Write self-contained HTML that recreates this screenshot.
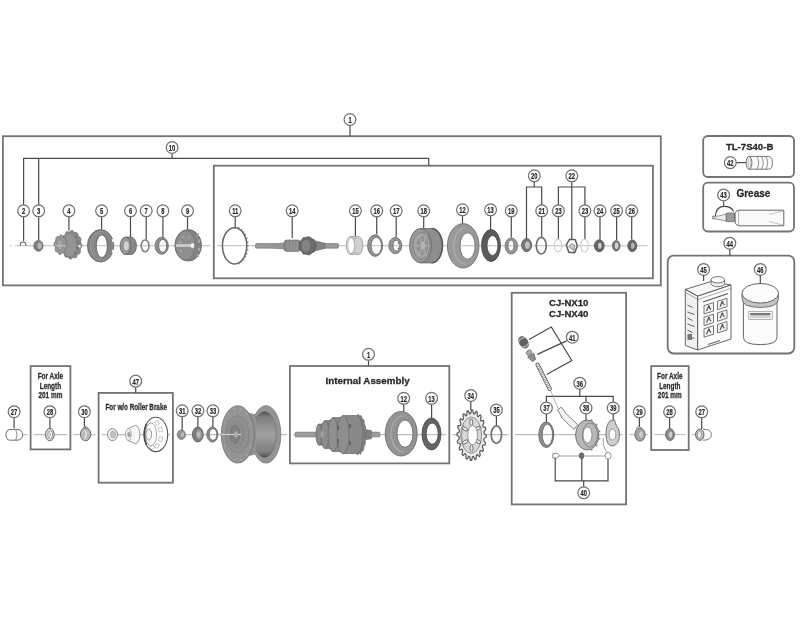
<!DOCTYPE html>
<html><head><meta charset="utf-8"><style>
html,body{margin:0;padding:0;background:#fff;}
svg{display:block;font-family:"Liberation Sans",sans-serif;will-change:transform;filter:blur(0.3px);}
</style></head><body>
<svg width="800" height="617" viewBox="0 0 800 617">
<defs>
<radialGradient id="gA" cx="0.4" cy="0.4" r="0.7"><stop offset="0" stop-color="#a8a8a8"/><stop offset="1" stop-color="#6e6e6e"/></radialGradient>
<linearGradient id="gB" x1="0" y1="0" x2="0" y2="1"><stop offset="0" stop-color="#9a9a9a"/><stop offset="0.5" stop-color="#b0b0b0"/><stop offset="1" stop-color="#7a7a7a"/></linearGradient>
<linearGradient id="gC" x1="0" y1="0" x2="1" y2="0"><stop offset="0" stop-color="#8a8a8a"/><stop offset="1" stop-color="#a5a5a5"/></linearGradient>
<linearGradient id="gHub" x1="0" y1="0" x2="0" y2="1"><stop offset="0" stop-color="#4a4a4a"/><stop offset="0.12" stop-color="#7a7a7a"/><stop offset="0.5" stop-color="#9a9a9a"/><stop offset="0.88" stop-color="#7a7a7a"/><stop offset="1" stop-color="#4a4a4a"/></linearGradient>
</defs>
<line x1="10" y1="245.8" x2="11.5" y2="245.8" stroke="#bdbdbd" stroke-width="1.1"/>
<line x1="15" y1="245.8" x2="210.60000000000002" y2="245.8" stroke="#bdbdbd" stroke-width="1.1"/>
<line x1="217.0" y1="245.8" x2="647.5" y2="245.8" stroke="#bdbdbd" stroke-width="1.1"/>
<line x1="6" y1="434.6" x2="27.400000000000002" y2="434.6" stroke="#bdbdbd" stroke-width="1.1"/>
<line x1="33.800000000000004" y1="434.6" x2="67.2" y2="434.6" stroke="#bdbdbd" stroke-width="1.1"/>
<line x1="73.60000000000001" y1="434.6" x2="95.5" y2="434.6" stroke="#bdbdbd" stroke-width="1.1"/>
<line x1="101.9" y1="434.6" x2="170.0" y2="434.6" stroke="#bdbdbd" stroke-width="1.1"/>
<line x1="176.39999999999998" y1="434.6" x2="286.7" y2="434.6" stroke="#bdbdbd" stroke-width="1.1"/>
<line x1="293.09999999999997" y1="434.6" x2="446.1" y2="434.6" stroke="#bdbdbd" stroke-width="1.1"/>
<line x1="452.5" y1="434.6" x2="508.5" y2="434.6" stroke="#bdbdbd" stroke-width="1.1"/>
<line x1="514.9" y1="434.6" x2="622.9" y2="434.6" stroke="#bdbdbd" stroke-width="1.1"/>
<line x1="629.3000000000001" y1="434.6" x2="648.0" y2="434.6" stroke="#bdbdbd" stroke-width="1.1"/>
<line x1="654.4000000000001" y1="434.6" x2="685.5" y2="434.6" stroke="#bdbdbd" stroke-width="1.1"/>
<line x1="691.9000000000001" y1="434.6" x2="700" y2="434.6" stroke="#bdbdbd" stroke-width="1.1"/>
<rect x="2.9" y="136.2" width="657.9" height="149.2" rx="0" fill="none" stroke="#737373" stroke-width="1.8"/>
<rect x="213.8" y="165.7" width="439.09999999999997" height="112.60000000000002" rx="0" fill="none" stroke="#737373" stroke-width="1.8"/>
<line x1="350" y1="125.3" x2="350" y2="136.2" stroke="#4a4a4a" stroke-width="1.2"/>
<circle cx="350" cy="119.5" r="5.9" fill="#fff" stroke="#727272" stroke-width="1.25"/>
<text x="0" y="0" transform="translate(350,122.9) scale(0.62,1)" text-anchor="middle" font-size="9.4" font-weight="bold" fill="#262626" stroke="#262626" stroke-width="0.2">1</text>
<polyline points="23.6,205 23.6,158.4 428.7,158.4 428.7,165.7" fill="none" stroke="#4a4a4a" stroke-width="1.2"/>
<line x1="38.7" y1="158.4" x2="38.7" y2="205" stroke="#4a4a4a" stroke-width="1.2"/>
<line x1="172.1" y1="153.2" x2="172.1" y2="158.4" stroke="#4a4a4a" stroke-width="1.2"/>
<circle cx="172.1" cy="147.5" r="5.9" fill="#fff" stroke="#727272" stroke-width="1.25"/>
<text x="0" y="0" transform="translate(172.1,150.9) scale(0.62,1)" text-anchor="middle" font-size="9.4" font-weight="bold" fill="#262626" stroke="#262626" stroke-width="0.2">10</text>
<line x1="23.6" y1="216.60000000000002" x2="23.6" y2="241" stroke="#4a4a4a" stroke-width="1.2"/>
<line x1="38.7" y1="216.60000000000002" x2="38.7" y2="240" stroke="#4a4a4a" stroke-width="1.2"/>
<line x1="68.9" y1="216.60000000000002" x2="68.9" y2="230.5" stroke="#4a4a4a" stroke-width="1.2"/>
<line x1="101.6" y1="216.60000000000002" x2="101.6" y2="229.5" stroke="#4a4a4a" stroke-width="1.2"/>
<line x1="130.5" y1="216.60000000000002" x2="130.5" y2="237" stroke="#4a4a4a" stroke-width="1.2"/>
<line x1="146.2" y1="216.60000000000002" x2="146.2" y2="239.5" stroke="#4a4a4a" stroke-width="1.2"/>
<line x1="162.9" y1="216.60000000000002" x2="162.9" y2="237.5" stroke="#4a4a4a" stroke-width="1.2"/>
<line x1="187.5" y1="216.60000000000002" x2="187.5" y2="229" stroke="#4a4a4a" stroke-width="1.2"/>
<line x1="235.2" y1="216.60000000000002" x2="235.2" y2="227" stroke="#4a4a4a" stroke-width="1.2"/>
<line x1="292.2" y1="216.60000000000002" x2="292.2" y2="238" stroke="#4a4a4a" stroke-width="1.2"/>
<line x1="355.4" y1="216.60000000000002" x2="355.4" y2="236.4" stroke="#4a4a4a" stroke-width="1.2"/>
<line x1="376.7" y1="216.60000000000002" x2="376.7" y2="234.6" stroke="#4a4a4a" stroke-width="1.2"/>
<line x1="396.2" y1="216.60000000000002" x2="396.2" y2="237" stroke="#4a4a4a" stroke-width="1.2"/>
<line x1="423.7" y1="216.60000000000002" x2="423.7" y2="228" stroke="#4a4a4a" stroke-width="1.2"/>
<line x1="462.5" y1="215.60000000000002" x2="462.5" y2="223.3" stroke="#4a4a4a" stroke-width="1.2"/>
<line x1="490.6" y1="215.60000000000002" x2="490.6" y2="229.6" stroke="#4a4a4a" stroke-width="1.2"/>
<line x1="511.3" y1="216.60000000000002" x2="511.3" y2="237.6" stroke="#4a4a4a" stroke-width="1.2"/>
<line x1="541.7" y1="216.60000000000002" x2="541.7" y2="237" stroke="#4a4a4a" stroke-width="1.2"/>
<line x1="558.4" y1="216.60000000000002" x2="558.4" y2="239" stroke="#4a4a4a" stroke-width="1.2"/>
<line x1="584.9" y1="216.60000000000002" x2="584.9" y2="239" stroke="#4a4a4a" stroke-width="1.2"/>
<line x1="600" y1="216.60000000000002" x2="600" y2="239.8" stroke="#4a4a4a" stroke-width="1.2"/>
<line x1="616.6" y1="216.60000000000002" x2="616.6" y2="240" stroke="#4a4a4a" stroke-width="1.2"/>
<line x1="631.7" y1="216.60000000000002" x2="631.7" y2="239.5" stroke="#4a4a4a" stroke-width="1.2"/>
<line x1="534.3" y1="181.6" x2="534.3" y2="187" stroke="#4a4a4a" stroke-width="1.2"/>
<polyline points="526.5,239.7 526.5,187 541.7,187 541.7,205" fill="none" stroke="#4a4a4a" stroke-width="1.2"/>
<polyline points="558.4,205 558.4,187 584.9,187 584.9,205" fill="none" stroke="#4a4a4a" stroke-width="1.2"/>
<line x1="571.8" y1="181.6" x2="571.8" y2="239" stroke="#4a4a4a" stroke-width="1.2"/>
<g style="filter:brightness(1.07)"><path d="M20.2,245.8 A2.9,3.8 0 0 1 26,245.8" fill="none" stroke="#555" stroke-width="1.1" />
<ellipse cx="38.40" cy="245.80" rx="4.60" ry="5.40" fill="#767676" stroke="#5a5a5a" stroke-width="0.8" />
<ellipse cx="39.60" cy="245.80" rx="2.20" ry="3.20" fill="#a9a9a9" stroke="none" stroke-width="0.8" />
<path d="M81.80,244.80 L81.71,246.67 L80.62,248.21 L80.21,249.83 L80.38,251.95 L79.61,253.51 L78.10,254.10 L77.14,255.24 L76.50,257.18 L75.26,258.01 L73.72,257.51 L72.47,257.84 L71.20,259.10 L69.82,258.98 L68.68,257.51 L67.47,256.95 L65.90,257.18 L64.75,256.14 L64.30,254.10 L63.46,252.81 L62.02,251.95 L61.41,250.27 L61.78,248.21 L61.53,246.52 L60.60,244.80 L60.69,242.93 L61.78,241.39 L62.19,239.77 L62.02,237.65 L62.79,236.09 L64.30,235.50 L65.26,234.36 L65.90,232.42 L67.14,231.59 L68.68,232.09 L69.93,231.76 L71.20,230.50 L72.58,230.62 L73.72,232.09 L74.93,232.65 L76.50,232.42 L77.65,233.46 L78.10,235.50 L78.94,236.79 L80.38,237.65 L80.99,239.33 L80.62,241.39 L80.87,243.08 Z" fill="#828282" stroke="#5e5e5e" stroke-width="0.7"/>
<ellipse cx="69.50" cy="244.80" rx="7.50" ry="12.00" fill="#8a8a8a" stroke="#6e6e6e" stroke-width="0.6" />
<path d="M67.00,244.80 L66.88,246.75 L65.78,248.17 L65.26,249.69 L65.10,251.87 L64.11,253.11 L62.69,252.93 L61.62,253.43 L60.50,254.80 L59.23,254.61 L58.31,252.93 L57.32,252.12 L55.90,251.87 L55.10,250.36 L55.22,248.17 L54.89,246.52 L54.00,244.80 L54.12,242.85 L55.22,241.43 L55.74,239.91 L55.90,237.73 L56.89,236.49 L58.31,236.67 L59.38,236.17 L60.50,234.80 L61.77,234.99 L62.69,236.67 L63.68,237.48 L65.10,237.73 L65.90,239.24 L65.78,241.43 L66.11,243.08 Z" fill="#8c8c8c" stroke="#666" stroke-width="0.6"/>
<ellipse cx="59.80" cy="244.80" rx="3.20" ry="5.20" fill="#9a9a9a" stroke="#727272" stroke-width="0.5" />
<line x1="55" y1="245.8" x2="66" y2="245.8" stroke="#b8b8b8" stroke-width="1"/>
<circle cx="79.6" cy="246.3" r="1.2" fill="#e0e0e0"/>
<rect x="74.86" y="235.74" width="2" height="2.8" fill="#707070"/>
<rect x="76.80" y="240.81" width="2" height="2.8" fill="#707070"/>
<rect x="76.64" y="246.82" width="2" height="2.8" fill="#707070"/>
<rect x="74.44" y="251.59" width="2" height="2.8" fill="#707070"/>
<path d="M87.40,245.80 a13.20,16.20 0 1 0 26.40,0 a13.20,16.20 0 1 0 -26.40,0 Z M96.30,246.20 a5.50,11.30 0 1 0 11.00,0 a5.50,11.30 0 1 0 -11.00,0 Z" fill="#7a7a7a" fill-rule="evenodd" stroke="#5a5a5a" stroke-width="0.8"/>
<path d="M101.5,231.20000000000002 A11,14.6 0 0 0 101.5,260.40000000000003" fill="none" stroke="#989898" stroke-width="0.9" />
<path d="M101.5,233.20000000000002 A8.4,12.6 0 0 0 101.5,258.40000000000003" fill="none" stroke="#939393" stroke-width="0.8" />
<path d="M101.5,231.20000000000002 A11.5,14.6 0 0 1 101.5,260.40000000000003" fill="none" stroke="#8e8e8e" stroke-width="0.7" />
<rect x="112.2" y="239.1" width="2.6" height="2.8" fill="#fff"/>
<rect x="112.2" y="250.1" width="2.6" height="2.8" fill="#fff"/>
<path d="M125.50,237.10 L131.00,237.10 A5.40,8.70 0 0 1 131.00,254.50 L125.50,254.50 Z" fill="#7d7d7d" stroke="#5a5a5a" stroke-width="0.8"/>
<ellipse cx="125.50" cy="245.80" rx="5.40" ry="8.70" fill="#8c8c8c" stroke="#5a5a5a" stroke-width="0.8" />
<ellipse cx="126.30" cy="245.80" rx="2.40" ry="4.60" fill="#c4c4c4" stroke="none" stroke-width="0.8" />
<ellipse cx="145.10" cy="245.80" rx="3.90" ry="5.90" fill="none" stroke="#737373" stroke-width="1.5" />
<path d="M155.10,245.80 a6.60,8.50 0 1 0 13.20,0 a6.60,8.50 0 1 0 -13.20,0 Z M158.70,245.80 a4.00,6.40 0 1 0 8.00,0 a4.00,6.40 0 1 0 -8.00,0 Z" fill="#878787" fill-rule="evenodd" stroke="#5a5a5a" stroke-width="0.8"/>
<ellipse cx="188.20" cy="245.30" rx="13.30" ry="15.80" fill="#7a7a7a" stroke="#5a5a5a" stroke-width="0.8" />
<ellipse cx="185.50" cy="245.30" rx="10.00" ry="14.40" fill="#868686" stroke="#6a6a6a" stroke-width="0.6" />
<rect x="196.60" y="233.31" width="2.4" height="3.2" fill="#9a9a9a"/>
<rect x="197.74" y="239.60" width="2.4" height="3.2" fill="#9a9a9a"/>
<rect x="197.74" y="247.80" width="2.4" height="3.2" fill="#9a9a9a"/>
<rect x="196.60" y="254.09" width="2.4" height="3.2" fill="#9a9a9a"/>
<circle cx="179.86" cy="242.22" r="1.2" fill="#9c9c9c"/>
<circle cx="183.45" cy="236.84" r="1.2" fill="#9c9c9c"/>
<circle cx="188.50" cy="237.51" r="1.2" fill="#9c9c9c"/>
<circle cx="180.90" cy="251.09" r="1.2" fill="#9c9c9c"/>
<rect x="176.00" y="244.20" width="16.00" height="2.60" rx="0" fill="#c2c2c2" stroke="none" stroke-width="0.6"/>
<ellipse cx="192.50" cy="245.50" rx="1.80" ry="2.50" fill="#e6e6e6" stroke="none" stroke-width="0.8" />
<circle cx="238.88" cy="228.09" r="1.0" fill="#999"/>
<circle cx="241.37" cy="229.67" r="1.0" fill="#999"/>
<circle cx="243.58" cy="231.95" r="1.0" fill="#999"/>
<circle cx="245.40" cy="234.84" r="1.0" fill="#999"/>
<circle cx="246.77" cy="238.22" r="1.0" fill="#999"/>
<circle cx="247.61" cy="241.92" r="1.0" fill="#999"/>
<circle cx="247.90" cy="245.80" r="1.0" fill="#999"/>
<circle cx="247.61" cy="249.68" r="1.0" fill="#999"/>
<circle cx="246.77" cy="253.38" r="1.0" fill="#999"/>
<circle cx="245.40" cy="256.76" r="1.0" fill="#999"/>
<circle cx="243.58" cy="259.65" r="1.0" fill="#999"/>
<circle cx="241.37" cy="261.93" r="1.0" fill="#999"/>
<circle cx="238.88" cy="263.51" r="1.0" fill="#999"/>
<ellipse cx="234.60" cy="245.80" rx="12.20" ry="18.10" fill="none" stroke="#5c5c5c" stroke-width="1.45" />
<rect x="255.50" y="243.50" width="83.00" height="4.70" rx="1.2" fill="#8f8f8f" stroke="#6c6c6c" stroke-width="0.6"/>
<path d="M270,243.8 L284,242.4 L284,249.4 L270,248 Z" fill="#8a8a8a" stroke="none"/>
<rect x="284.00" y="240.00" width="16.50" height="11.40" rx="3" fill="#7f7f7f" stroke="#5e5e5e" stroke-width="0.6"/>
<line x1="288" y1="240.6" x2="288" y2="250.8" stroke="#9c9c9c" stroke-width="0.7"/>
<line x1="291" y1="240.6" x2="291" y2="250.8" stroke="#9c9c9c" stroke-width="0.7"/>
<line x1="294" y1="240.6" x2="294" y2="250.8" stroke="#9c9c9c" stroke-width="0.7"/>
<line x1="297" y1="240.6" x2="297" y2="250.8" stroke="#9c9c9c" stroke-width="0.7"/>
<path d="M314,240.5 L325,243.2 L325,248.4 L314,251.2 Z" fill="#7a7a7a" stroke="#5e5e5e" stroke-width="0.5" />
<ellipse cx="307.50" cy="245.80" rx="8.20" ry="8.80" fill="#666" stroke="#4e4e4e" stroke-width="0.8" />
<ellipse cx="306.00" cy="245.80" rx="4.50" ry="6.00" fill="#7a7a7a" stroke="none" stroke-width="0.8" />
<circle cx="315.80" cy="245.80" r="0.9" fill="#5a5a5a"/>
<circle cx="313.86" cy="251.52" r="0.9" fill="#5a5a5a"/>
<circle cx="308.94" cy="254.56" r="0.9" fill="#5a5a5a"/>
<circle cx="303.35" cy="253.51" r="0.9" fill="#5a5a5a"/>
<circle cx="299.70" cy="248.84" r="0.9" fill="#5a5a5a"/>
<circle cx="299.70" cy="242.76" r="0.9" fill="#5a5a5a"/>
<circle cx="303.35" cy="238.09" r="0.9" fill="#5a5a5a"/>
<circle cx="308.94" cy="237.04" r="0.9" fill="#5a5a5a"/>
<circle cx="313.86" cy="240.08" r="0.9" fill="#5a5a5a"/>
<path d="M350.50,236.60 L358.60,236.60 A4.20,8.90 0 0 1 358.60,254.40 L350.50,254.40 Z" fill="#c2c2c2" stroke="#8c8c8c" stroke-width="0.8"/>
<ellipse cx="350.50" cy="245.50" rx="4.20" ry="8.90" fill="#cdcdcd" stroke="#8c8c8c" stroke-width="0.8" />
<ellipse cx="351.20" cy="245.50" rx="3.20" ry="7.60" fill="#f4f4f4" stroke="#a4a4a4" stroke-width="0.6" />
<path d="M353.5,238.5 L357.5,238.5 M353.5,252.5 L357.5,252.5" fill="none" stroke="#9a9a9a" stroke-width="0.6" />
<path d="M367.60,245.60 a7.50,10.80 0 1 0 15.00,0 a7.50,10.80 0 1 0 -15.00,0 Z M371.10,245.80 a5.20,8.60 0 1 0 10.40,0 a5.20,8.60 0 1 0 -10.40,0 Z" fill="#8a8a8a" fill-rule="evenodd" stroke="#5e5e5e" stroke-width="0.8"/>
<path d="M388.80,245.60 a6.50,8.10 0 1 0 13.00,0 a6.50,8.10 0 1 0 -13.00,0 Z M393.00,245.60 a3.40,5.40 0 1 0 6.80,0 a3.40,5.40 0 1 0 -6.80,0 Z" fill="#8d8d8d" fill-rule="evenodd" stroke="#5e5e5e" stroke-width="0.8"/>
<circle cx="398.5" cy="243" r="1" fill="#777"/><circle cx="398.5" cy="248.5" r="1" fill="#777"/>
<path d="M420.50,228.50 L431.50,228.50 A11.00,17.20 0 0 1 431.50,262.90 L420.50,262.90 Z" fill="#858585" stroke="#5e5e5e" stroke-width="0.8"/>
<ellipse cx="420.50" cy="245.70" rx="11.00" ry="17.20" fill="#8e8e8e" stroke="#5e5e5e" stroke-width="0.8" />
<path d="M431.5,228.5 A11,17.2 0 0 1 431.5,262.9" fill="none" stroke="#555" stroke-width="1.6" />
<ellipse cx="421.50" cy="245.70" rx="8.50" ry="13.00" fill="#9a9a9a" stroke="#727272" stroke-width="0.8" />
<ellipse cx="422.50" cy="245.70" rx="5.50" ry="9.00" fill="#8a8a8a" stroke="#7a7a7a" stroke-width="0.6" />
<line x1="423.50" y1="242.93" x2="426.25" y2="235.74" stroke="#a8a8a8" stroke-width="1"/>
<line x1="424.50" y1="245.70" x2="430.00" y2="245.70" stroke="#a8a8a8" stroke-width="1"/>
<line x1="423.50" y1="248.47" x2="426.25" y2="255.66" stroke="#a8a8a8" stroke-width="1"/>
<line x1="421.50" y1="248.47" x2="418.75" y2="255.66" stroke="#a8a8a8" stroke-width="1"/>
<line x1="420.50" y1="245.70" x2="415.00" y2="245.70" stroke="#a8a8a8" stroke-width="1"/>
<line x1="421.50" y1="242.93" x2="418.75" y2="235.74" stroke="#a8a8a8" stroke-width="1"/>
<ellipse cx="423.00" cy="245.70" rx="2.20" ry="3.60" fill="#a8a8a8" stroke="none" stroke-width="0.8" />
<path d="M447.40,245.80 a15.80,22.20 0 1 0 31.60,0 a15.80,22.20 0 1 0 -31.60,0 Z M460.00,246.00 a7.60,13.20 0 1 0 15.20,0 a7.60,13.20 0 1 0 -15.20,0 Z" fill="#8f8f8f" fill-rule="evenodd" stroke="#5e5e5e" stroke-width="0.8"/>
<path d="M465.5,228 A11.8,18 0 0 0 465.5,264" fill="none" stroke="#a6a6a6" stroke-width="1.1" />
<path d="M481.50,245.50 a9.50,16.00 0 1 0 19.00,0 a9.50,16.00 0 1 0 -19.00,0 Z M487.00,245.50 a5.50,10.00 0 1 0 11.00,0 a5.50,10.00 0 1 0 -11.00,0 Z" fill="#555" fill-rule="evenodd" stroke="#3e3e3e" stroke-width="0.8"/>
<path d="M505.10,246.00 a6.20,8.00 0 1 0 12.40,0 a6.20,8.00 0 1 0 -12.40,0 Z M508.00,245.60 a3.00,5.60 0 1 0 6.00,0 a3.00,5.60 0 1 0 -6.00,0 Z" fill="#8c8c8c" fill-rule="evenodd" stroke="#666" stroke-width="0.8"/>
<path d="M521.60,245.10 a5.00,6.60 0 1 0 10.00,0 a5.00,6.60 0 1 0 -10.00,0 Z M525.00,245.10 a2.40,3.60 0 1 0 4.80,0 a2.40,3.60 0 1 0 -4.80,0 Z" fill="#707070" fill-rule="evenodd" stroke="#555" stroke-width="0.8"/>
<ellipse cx="527.40" cy="245.10" rx="2.40" ry="3.60" fill="#b4b4b4" stroke="none" stroke-width="0.8" />
<ellipse cx="541.30" cy="245.70" rx="5.00" ry="8.30" fill="none" stroke="#666" stroke-width="1.7" />
<ellipse cx="558.10" cy="245.60" rx="3.80" ry="6.40" fill="none" stroke="#c0c0c0" stroke-width="1.1" />
<ellipse cx="584.50" cy="245.60" rx="3.80" ry="6.40" fill="none" stroke="#c0c0c0" stroke-width="1.1" />
<path d="M566.3,244.8 L569.6,239.2 L575.2,239.6 L577.4,246 L574.6,252.6 L568.8,252.2 Z" fill="#ececec" stroke="#555" stroke-width="1.5" />
<path d="M568.5,246.5 L571.5,243.8 L575,245.5 L573.8,250.5 Z" fill="#bdbdbd" stroke="#666" stroke-width="0.7" />
<path d="M594.40,245.80 a4.90,6.00 0 1 0 9.80,0 a4.90,6.00 0 1 0 -9.80,0 Z M598.00,245.80 a1.80,3.00 0 1 0 3.60,0 a1.80,3.00 0 1 0 -3.60,0 Z" fill="#606060" fill-rule="evenodd" stroke="#4a4a4a" stroke-width="0.8"/>
<ellipse cx="599.80" cy="245.80" rx="1.80" ry="3.00" fill="#bdbdbd" stroke="none" stroke-width="0.8" />
<path d="M612.40,245.80 a3.80,5.20 0 1 0 7.60,0 a3.80,5.20 0 1 0 -7.60,0 Z M614.80,245.80 a1.80,3.20 0 1 0 3.60,0 a1.80,3.20 0 1 0 -3.60,0 Z" fill="#6e6e6e" fill-rule="evenodd" stroke="#555" stroke-width="0.8"/>
<ellipse cx="616.60" cy="245.80" rx="1.80" ry="3.20" fill="#c4c4c4" stroke="none" stroke-width="0.8" />
<path d="M627.80,245.80 a4.50,5.80 0 1 0 9.00,0 a4.50,5.80 0 1 0 -9.00,0 Z M631.00,245.80 a1.80,3.00 0 1 0 3.60,0 a1.80,3.00 0 1 0 -3.60,0 Z" fill="#626262" fill-rule="evenodd" stroke="#4a4a4a" stroke-width="0.8"/>
<ellipse cx="632.80" cy="245.80" rx="1.80" ry="3.00" fill="#a8a8a8" stroke="none" stroke-width="0.8" /></g>
<path d="M749,156.4 L768.5,156.4 Q772.4,156.4 772.4,162.8 Q772.4,169.2 768.5,169.2 L749,169.2" fill="#fafafa" stroke="#666" stroke-width="0.9" />
<ellipse cx="749.00" cy="162.80" rx="2.90" ry="6.40" fill="#f0f0f0" stroke="#666" stroke-width="0.9" />
<ellipse cx="749.40" cy="162.80" rx="1.40" ry="4.50" fill="none" stroke="#999" stroke-width="0.6" />
<path d="M757,156.6 Q760.4,162.8 757,169" fill="none" stroke="#777" stroke-width="0.8" />
<path d="M761.5,156.6 Q764.9,162.8 761.5,169" fill="none" stroke="#777" stroke-width="0.8" />
<path d="M766,156.6 Q769.4,162.8 766,169" fill="none" stroke="#777" stroke-width="0.8" />
<path d="M723.7,200.8 L723.7,206.6" fill="none" stroke="#444" stroke-width="1" />
<path d="M715.2,217.2 Q716,206.4 723.7,206.4 Q731.5,206.4 733.6,211.5" fill="none" stroke="#444" stroke-width="1.1" />
<path d="M713,216.4 L718.5,216 L726.3,214 L726.3,221.2 L718.5,219.3 L713,218.6 Z" fill="#eee" stroke="#666" stroke-width="0.7" />
<ellipse cx="713.30" cy="217.50" rx="1.00" ry="1.60" fill="#ddd" stroke="#555" stroke-width="0.6" />
<rect x="726.30" y="213.00" width="8.40" height="8.60" rx="1" fill="#ababab" stroke="#555" stroke-width="0.7"/>
<line x1="728" y1="213.5" x2="728" y2="221" stroke="#707070" stroke-width="0.5"/>
<line x1="730" y1="213.5" x2="730" y2="221" stroke="#707070" stroke-width="0.5"/>
<line x1="732" y1="213.5" x2="732" y2="221" stroke="#707070" stroke-width="0.5"/>
<line x1="734" y1="213.5" x2="734" y2="221" stroke="#707070" stroke-width="0.5"/>
<path d="M735.1,212.5 Q737.5,210.2 739,210.2 L783.8,210.2 L783.8,225.8 L739,225.8 Q737.5,225.8 735.1,223 Z" fill="#fafafa" stroke="#555" stroke-width="0.9" />
<path d="M738.6,210.6 L738.6,225.4" fill="none" stroke="#888" stroke-width="0.6" />
<path d="M783.5,210.8 L769,214.5 M783.5,225.2 L769,221.5" fill="none" stroke="#999" stroke-width="0.6" />
<path d="M685.3,289.4 L711,281.5 L731,285 L697.7,296.2 Z" fill="#f8f8f8" stroke="#555" stroke-width="0.9" />
<path d="M685.3,289.4 L697.7,296.2 L697.7,350 L685.3,345.5 Z" fill="#f0f0f0" stroke="#555" stroke-width="0.9" />
<path d="M697.7,296.2 L731,285 L731,339 L697.7,350 Z" fill="#fcfcfc" stroke="#555" stroke-width="0.9" />
<path d="M685.6,292.5 L697.7,299.5 L730.7,288.5" fill="none" stroke="#777" stroke-width="0.6" />
<path d="M711,279.8 L711,283.5 A6.8,3.2 0 0 0 724.6,283.5 L724.6,279.8" fill="#f0f0f0" stroke="#555" stroke-width="0.8" />
<ellipse cx="717.80" cy="279.80" rx="6.80" ry="3.20" fill="#fafafa" stroke="#555" stroke-width="0.8" />
<path d="M704.0,305.6 L713.5,302.6 L713.5,311.0 L704.0,314.0 Z" fill="#f4f4f4" stroke="#555" stroke-width="0.8" />
<path d="M706.5,311.0 L708.5,306.5 L711.0,309.5" fill="none" stroke="#555" stroke-width="1.2" />
<circle cx="709.0" cy="306.2" r="1" fill="#555"/>
<path d="M704.0,317.20000000000005 L713.5,314.20000000000005 L713.5,322.6 L704.0,325.6 Z" fill="#f4f4f4" stroke="#555" stroke-width="0.8" />
<path d="M706.5,322.6 L708.5,318.1 L711.0,321.1" fill="none" stroke="#555" stroke-width="1.2" />
<circle cx="709.0" cy="317.8" r="1" fill="#555"/>
<path d="M704.0,328.8 L713.5,325.8 L713.5,334.2 L704.0,337.2 Z" fill="#f4f4f4" stroke="#555" stroke-width="0.8" />
<path d="M706.5,334.2 L708.5,329.7 L711.0,332.7" fill="none" stroke="#555" stroke-width="1.2" />
<circle cx="709.0" cy="329.4" r="1" fill="#555"/>
<path d="M717.5,301.3 L727.0,298.3 L727.0,306.7 L717.5,309.7 Z" fill="#f4f4f4" stroke="#555" stroke-width="0.8" />
<path d="M720.0,306.7 L722.0,302.2 L724.5,305.2" fill="none" stroke="#555" stroke-width="1.2" />
<circle cx="722.5" cy="301.9" r="1" fill="#555"/>
<path d="M717.5,312.90000000000003 L727.0,309.90000000000003 L727.0,318.3 L717.5,321.3 Z" fill="#f4f4f4" stroke="#555" stroke-width="0.8" />
<path d="M720.0,318.3 L722.0,313.8 L724.5,316.8" fill="none" stroke="#555" stroke-width="1.2" />
<circle cx="722.5" cy="313.5" r="1" fill="#555"/>
<path d="M717.5,324.5 L727.0,321.5 L727.0,329.9 L717.5,332.9 Z" fill="#f4f4f4" stroke="#555" stroke-width="0.8" />
<path d="M720.0,329.9 L722.0,325.4 L724.5,328.4" fill="none" stroke="#555" stroke-width="1.2" />
<circle cx="722.5" cy="325.09999999999997" r="1" fill="#555"/>
<path d="M703,302 L728,293.6" fill="none" stroke="#555" stroke-width="1.1" />
<path d="M708,344.5 L720,340.5" fill="none" stroke="#666" stroke-width="1.1" />
<path d="M687.5,305 L692.5,307.5" fill="none" stroke="#666" stroke-width="1.0" />
<path d="M687.5,312 L694.5,314.5" fill="none" stroke="#666" stroke-width="1.0" />
<path d="M687.5,318 L692.5,320.5" fill="none" stroke="#666" stroke-width="1.0" />
<path d="M687.5,324 L694.5,326.5" fill="none" stroke="#666" stroke-width="1.0" />
<path d="M687.5,330 L692.5,332.5" fill="none" stroke="#666" stroke-width="1.0" />
<path d="M687.5,336 L694.5,338.5" fill="none" stroke="#666" stroke-width="1.0" />
<rect x="687.50" y="334.00" width="4.50" height="6.00" rx="0" fill="#777" stroke="none" stroke-width="0.6"/>
<path d="M743.4,300 L743.4,337.5 Q743.4,344.6 760.3,344.6 Q777,344.6 777,337.5 L777,300 Z" fill="#fbfbfb" stroke="#555" stroke-width="0.9" />
<path d="M742,293.5 L742,298.5 Q742,307.4 760.3,307.4 Q778.5,307.4 778.5,298.5 L778.5,293.5 Z" fill="#c4c4c4" stroke="#555" stroke-width="0.8" />
<ellipse cx="760.30" cy="293.30" rx="18.30" ry="9.80" fill="#fbfbfb" stroke="#555" stroke-width="0.9" />
<rect x="748.80" y="311.40" width="23.40" height="8.20" rx="0" fill="#f4f4f4" stroke="#888" stroke-width="0.6"/>
<rect x="750.30" y="313.00" width="20.00" height="2.40" rx="0" fill="#777" stroke="none" stroke-width="0.6"/>
<rect x="750.30" y="316.60" width="20.00" height="0.90" rx="0" fill="#aaa" stroke="none" stroke-width="0.6"/>
<circle cx="23.6" cy="210.8" r="5.9" fill="#fff" stroke="#727272" stroke-width="1.25"/>
<text x="0" y="0" transform="translate(23.6,214.20000000000002) scale(0.62,1)" text-anchor="middle" font-size="9.4" font-weight="bold" fill="#262626" stroke="#262626" stroke-width="0.2">2</text>
<circle cx="38.7" cy="210.8" r="5.9" fill="#fff" stroke="#727272" stroke-width="1.25"/>
<text x="0" y="0" transform="translate(38.7,214.20000000000002) scale(0.62,1)" text-anchor="middle" font-size="9.4" font-weight="bold" fill="#262626" stroke="#262626" stroke-width="0.2">3</text>
<circle cx="68.9" cy="210.8" r="5.9" fill="#fff" stroke="#727272" stroke-width="1.25"/>
<text x="0" y="0" transform="translate(68.9,214.20000000000002) scale(0.62,1)" text-anchor="middle" font-size="9.4" font-weight="bold" fill="#262626" stroke="#262626" stroke-width="0.2">4</text>
<circle cx="101.6" cy="210.8" r="5.9" fill="#fff" stroke="#727272" stroke-width="1.25"/>
<text x="0" y="0" transform="translate(101.6,214.20000000000002) scale(0.62,1)" text-anchor="middle" font-size="9.4" font-weight="bold" fill="#262626" stroke="#262626" stroke-width="0.2">5</text>
<circle cx="130.5" cy="210.8" r="5.9" fill="#fff" stroke="#727272" stroke-width="1.25"/>
<text x="0" y="0" transform="translate(130.5,214.20000000000002) scale(0.62,1)" text-anchor="middle" font-size="9.4" font-weight="bold" fill="#262626" stroke="#262626" stroke-width="0.2">6</text>
<circle cx="146.2" cy="210.8" r="5.9" fill="#fff" stroke="#727272" stroke-width="1.25"/>
<text x="0" y="0" transform="translate(146.2,214.20000000000002) scale(0.62,1)" text-anchor="middle" font-size="9.4" font-weight="bold" fill="#262626" stroke="#262626" stroke-width="0.2">7</text>
<circle cx="162.9" cy="210.8" r="5.9" fill="#fff" stroke="#727272" stroke-width="1.25"/>
<text x="0" y="0" transform="translate(162.9,214.20000000000002) scale(0.62,1)" text-anchor="middle" font-size="9.4" font-weight="bold" fill="#262626" stroke="#262626" stroke-width="0.2">8</text>
<circle cx="187.5" cy="210.8" r="5.9" fill="#fff" stroke="#727272" stroke-width="1.25"/>
<text x="0" y="0" transform="translate(187.5,214.20000000000002) scale(0.62,1)" text-anchor="middle" font-size="9.4" font-weight="bold" fill="#262626" stroke="#262626" stroke-width="0.2">9</text>
<circle cx="235.2" cy="210.8" r="5.9" fill="#fff" stroke="#727272" stroke-width="1.25"/>
<text x="0" y="0" transform="translate(235.2,214.20000000000002) scale(0.62,1)" text-anchor="middle" font-size="9.4" font-weight="bold" fill="#262626" stroke="#262626" stroke-width="0.2">11</text>
<circle cx="292.2" cy="210.8" r="5.9" fill="#fff" stroke="#727272" stroke-width="1.25"/>
<text x="0" y="0" transform="translate(292.2,214.20000000000002) scale(0.62,1)" text-anchor="middle" font-size="9.4" font-weight="bold" fill="#262626" stroke="#262626" stroke-width="0.2">14</text>
<circle cx="355.4" cy="210.8" r="5.9" fill="#fff" stroke="#727272" stroke-width="1.25"/>
<text x="0" y="0" transform="translate(355.4,214.20000000000002) scale(0.62,1)" text-anchor="middle" font-size="9.4" font-weight="bold" fill="#262626" stroke="#262626" stroke-width="0.2">15</text>
<circle cx="376.7" cy="210.8" r="5.9" fill="#fff" stroke="#727272" stroke-width="1.25"/>
<text x="0" y="0" transform="translate(376.7,214.20000000000002) scale(0.62,1)" text-anchor="middle" font-size="9.4" font-weight="bold" fill="#262626" stroke="#262626" stroke-width="0.2">16</text>
<circle cx="396.2" cy="210.8" r="5.9" fill="#fff" stroke="#727272" stroke-width="1.25"/>
<text x="0" y="0" transform="translate(396.2,214.20000000000002) scale(0.62,1)" text-anchor="middle" font-size="9.4" font-weight="bold" fill="#262626" stroke="#262626" stroke-width="0.2">17</text>
<circle cx="423.7" cy="210.8" r="5.9" fill="#fff" stroke="#727272" stroke-width="1.25"/>
<text x="0" y="0" transform="translate(423.7,214.20000000000002) scale(0.62,1)" text-anchor="middle" font-size="9.4" font-weight="bold" fill="#262626" stroke="#262626" stroke-width="0.2">18</text>
<circle cx="462.5" cy="209.8" r="5.9" fill="#fff" stroke="#727272" stroke-width="1.25"/>
<text x="0" y="0" transform="translate(462.5,213.20000000000002) scale(0.62,1)" text-anchor="middle" font-size="9.4" font-weight="bold" fill="#262626" stroke="#262626" stroke-width="0.2">12</text>
<circle cx="490.6" cy="209.8" r="5.9" fill="#fff" stroke="#727272" stroke-width="1.25"/>
<text x="0" y="0" transform="translate(490.6,213.20000000000002) scale(0.62,1)" text-anchor="middle" font-size="9.4" font-weight="bold" fill="#262626" stroke="#262626" stroke-width="0.2">13</text>
<circle cx="511.3" cy="210.8" r="5.9" fill="#fff" stroke="#727272" stroke-width="1.25"/>
<text x="0" y="0" transform="translate(511.3,214.20000000000002) scale(0.62,1)" text-anchor="middle" font-size="9.4" font-weight="bold" fill="#262626" stroke="#262626" stroke-width="0.2">19</text>
<circle cx="541.7" cy="210.8" r="5.9" fill="#fff" stroke="#727272" stroke-width="1.25"/>
<text x="0" y="0" transform="translate(541.7,214.20000000000002) scale(0.62,1)" text-anchor="middle" font-size="9.4" font-weight="bold" fill="#262626" stroke="#262626" stroke-width="0.2">21</text>
<circle cx="558.4" cy="210.8" r="5.9" fill="#fff" stroke="#727272" stroke-width="1.25"/>
<text x="0" y="0" transform="translate(558.4,214.20000000000002) scale(0.62,1)" text-anchor="middle" font-size="9.4" font-weight="bold" fill="#262626" stroke="#262626" stroke-width="0.2">23</text>
<circle cx="584.9" cy="210.8" r="5.9" fill="#fff" stroke="#727272" stroke-width="1.25"/>
<text x="0" y="0" transform="translate(584.9,214.20000000000002) scale(0.62,1)" text-anchor="middle" font-size="9.4" font-weight="bold" fill="#262626" stroke="#262626" stroke-width="0.2">23</text>
<circle cx="600" cy="210.8" r="5.9" fill="#fff" stroke="#727272" stroke-width="1.25"/>
<text x="0" y="0" transform="translate(600,214.20000000000002) scale(0.62,1)" text-anchor="middle" font-size="9.4" font-weight="bold" fill="#262626" stroke="#262626" stroke-width="0.2">24</text>
<circle cx="616.6" cy="210.8" r="5.9" fill="#fff" stroke="#727272" stroke-width="1.25"/>
<text x="0" y="0" transform="translate(616.6,214.20000000000002) scale(0.62,1)" text-anchor="middle" font-size="9.4" font-weight="bold" fill="#262626" stroke="#262626" stroke-width="0.2">25</text>
<circle cx="631.7" cy="210.8" r="5.9" fill="#fff" stroke="#727272" stroke-width="1.25"/>
<text x="0" y="0" transform="translate(631.7,214.20000000000002) scale(0.62,1)" text-anchor="middle" font-size="9.4" font-weight="bold" fill="#262626" stroke="#262626" stroke-width="0.2">26</text>
<circle cx="534.3" cy="175.8" r="5.9" fill="#fff" stroke="#727272" stroke-width="1.25"/>
<text x="0" y="0" transform="translate(534.3,179.20000000000002) scale(0.62,1)" text-anchor="middle" font-size="9.4" font-weight="bold" fill="#262626" stroke="#262626" stroke-width="0.2">20</text>
<circle cx="571.8" cy="175.8" r="5.9" fill="#fff" stroke="#727272" stroke-width="1.25"/>
<text x="0" y="0" transform="translate(571.8,179.20000000000002) scale(0.62,1)" text-anchor="middle" font-size="9.4" font-weight="bold" fill="#262626" stroke="#262626" stroke-width="0.2">22</text>
<rect x="703.2" y="136" width="90.79999999999995" height="41" rx="4.5" fill="none" stroke="#737373" stroke-width="1.8"/>
<text transform="translate(749.6,149.9) scale(1.0,1)" text-anchor="middle" font-size="9.6" font-weight="bold" fill="#2a2a2a" stroke="#2a2a2a" stroke-width="0.3">TL-7S40-B</text>
<line x1="736" y1="162.6" x2="746" y2="162.6" stroke="#4a4a4a" stroke-width="1.2"/>
<circle cx="730.3" cy="162.6" r="5.9" fill="#fff" stroke="#727272" stroke-width="1.25"/>
<text x="0" y="0" transform="translate(730.3,166.0) scale(0.62,1)" text-anchor="middle" font-size="9.4" font-weight="bold" fill="#262626" stroke="#262626" stroke-width="0.2">42</text>
<rect x="703.2" y="182.7" width="90.79999999999995" height="48.80000000000001" rx="4.5" fill="none" stroke="#737373" stroke-width="1.8"/>
<text transform="translate(753.4,197.0) scale(1.0,1)" text-anchor="middle" font-size="10" font-weight="bold" fill="#2a2a2a" stroke="#2a2a2a" stroke-width="0.3">Grease</text>
<circle cx="723.6" cy="195" r="5.9" fill="#fff" stroke="#727272" stroke-width="1.25"/>
<text x="0" y="0" transform="translate(723.6,198.4) scale(0.62,1)" text-anchor="middle" font-size="9.4" font-weight="bold" fill="#262626" stroke="#262626" stroke-width="0.2">43</text>
<rect x="667.7" y="255.7" width="126.59999999999991" height="97.80000000000001" rx="6" fill="none" stroke="#737373" stroke-width="1.8"/>
<line x1="729.8" y1="248.8" x2="729.8" y2="255.7" stroke="#4a4a4a" stroke-width="1.2"/>
<circle cx="729.8" cy="243.2" r="5.9" fill="#fff" stroke="#727272" stroke-width="1.25"/>
<text x="0" y="0" transform="translate(729.8,246.6) scale(0.62,1)" text-anchor="middle" font-size="9.4" font-weight="bold" fill="#262626" stroke="#262626" stroke-width="0.2">44</text>
<circle cx="703.6" cy="269.4" r="5.9" fill="#fff" stroke="#727272" stroke-width="1.25"/>
<text x="0" y="0" transform="translate(703.6,272.79999999999995) scale(0.62,1)" text-anchor="middle" font-size="9.4" font-weight="bold" fill="#262626" stroke="#262626" stroke-width="0.2">45</text>
<circle cx="760.3" cy="269.4" r="5.9" fill="#fff" stroke="#727272" stroke-width="1.25"/>
<text x="0" y="0" transform="translate(760.3,272.79999999999995) scale(0.62,1)" text-anchor="middle" font-size="9.4" font-weight="bold" fill="#262626" stroke="#262626" stroke-width="0.2">46</text>
<line x1="703.6" y1="275.2" x2="703.6" y2="281" stroke="#4a4a4a" stroke-width="1.2"/>
<line x1="760.3" y1="275.2" x2="760.3" y2="284" stroke="#4a4a4a" stroke-width="1.2"/>
<rect x="30.6" y="366.1" width="39.800000000000004" height="83.29999999999995" rx="0" fill="none" stroke="#737373" stroke-width="1.8"/>
<text transform="translate(50.4,379.0) scale(0.655,1)" text-anchor="middle" font-size="9.8" font-weight="bold" fill="#2a2a2a" stroke="#2a2a2a" stroke-width="0.3">For Axle</text>
<text transform="translate(50.4,388.6) scale(0.655,1)" text-anchor="middle" font-size="9.8" font-weight="bold" fill="#2a2a2a" stroke="#2a2a2a" stroke-width="0.3">Length</text>
<text transform="translate(50.4,398.2) scale(0.655,1)" text-anchor="middle" font-size="9.8" font-weight="bold" fill="#2a2a2a" stroke="#2a2a2a" stroke-width="0.3">201 mm</text>
<rect x="98.6" y="392.9" width="74.30000000000001" height="89.80000000000001" rx="0" fill="none" stroke="#737373" stroke-width="1.8"/>
<text transform="translate(136.2,410.0) scale(0.645,1)" text-anchor="middle" font-size="9.8" font-weight="bold" fill="#2a2a2a" stroke="#2a2a2a" stroke-width="0.3">For w/o Roller Brake</text>
<line x1="135.7" y1="387.1" x2="135.7" y2="392.9" stroke="#4a4a4a" stroke-width="1.2"/>
<circle cx="135.7" cy="381.1" r="5.9" fill="#fff" stroke="#727272" stroke-width="1.25"/>
<text x="0" y="0" transform="translate(135.7,384.5) scale(0.62,1)" text-anchor="middle" font-size="9.4" font-weight="bold" fill="#262626" stroke="#262626" stroke-width="0.2">47</text>
<rect x="289.9" y="366.0" width="159.40000000000003" height="97.39999999999998" rx="0" fill="none" stroke="#737373" stroke-width="1.8"/>
<text transform="translate(367.6,383.8) scale(1.0,1)" text-anchor="middle" font-size="9.8" font-weight="bold" fill="#2a2a2a" stroke="#2a2a2a" stroke-width="0.3">Internal Assembly</text>
<line x1="368.5" y1="360.1" x2="368.5" y2="365.6" stroke="#4a4a4a" stroke-width="1.2"/>
<circle cx="368.5" cy="354.3" r="5.9" fill="#fff" stroke="#727272" stroke-width="1.25"/>
<text x="0" y="0" transform="translate(368.5,357.7) scale(0.62,1)" text-anchor="middle" font-size="9.4" font-weight="bold" fill="#262626" stroke="#262626" stroke-width="0.2">1</text>
<rect x="511.7" y="292.8" width="114.40000000000003" height="211.59999999999997" rx="0" fill="none" stroke="#737373" stroke-width="1.8"/>
<text transform="translate(568.7,306.2) scale(1.0,1)" text-anchor="middle" font-size="9.6" font-weight="bold" fill="#2a2a2a" stroke="#2a2a2a" stroke-width="0.3">CJ-NX10</text>
<text transform="translate(568.7,317.3) scale(1.0,1)" text-anchor="middle" font-size="9.6" font-weight="bold" fill="#2a2a2a" stroke="#2a2a2a" stroke-width="0.3">CJ-NX40</text>
<rect x="651.2" y="366.1" width="37.5" height="83.89999999999998" rx="0" fill="none" stroke="#737373" stroke-width="1.8"/>
<text transform="translate(669.8,379.0) scale(0.655,1)" text-anchor="middle" font-size="9.8" font-weight="bold" fill="#2a2a2a" stroke="#2a2a2a" stroke-width="0.3">For Axle</text>
<text transform="translate(669.8,388.6) scale(0.655,1)" text-anchor="middle" font-size="9.8" font-weight="bold" fill="#2a2a2a" stroke="#2a2a2a" stroke-width="0.3">Length</text>
<text transform="translate(669.8,398.2) scale(0.655,1)" text-anchor="middle" font-size="9.8" font-weight="bold" fill="#2a2a2a" stroke="#2a2a2a" stroke-width="0.3">201 mm</text>
<line x1="14.1" y1="417.5" x2="14.1" y2="428.3" stroke="#4a4a4a" stroke-width="1.2"/>
<line x1="49.9" y1="417.5" x2="49.9" y2="430" stroke="#4a4a4a" stroke-width="1.2"/>
<line x1="84.4" y1="417.5" x2="84.4" y2="428.3" stroke="#4a4a4a" stroke-width="1.2"/>
<line x1="182.2" y1="416.6" x2="182.2" y2="430.6" stroke="#4a4a4a" stroke-width="1.2"/>
<line x1="197.9" y1="416.6" x2="197.9" y2="427.2" stroke="#4a4a4a" stroke-width="1.2"/>
<line x1="212.9" y1="416.6" x2="212.9" y2="427.2" stroke="#4a4a4a" stroke-width="1.2"/>
<line x1="403.7" y1="404.1" x2="403.7" y2="411.5" stroke="#4a4a4a" stroke-width="1.2"/>
<line x1="431.6" y1="404.1" x2="431.6" y2="418.3" stroke="#4a4a4a" stroke-width="1.2"/>
<line x1="470.8" y1="401.2" x2="470.8" y2="410" stroke="#4a4a4a" stroke-width="1.2"/>
<line x1="496.4" y1="415.8" x2="496.4" y2="425.4" stroke="#4a4a4a" stroke-width="1.2"/>
<line x1="546.4" y1="413.8" x2="546.4" y2="422.2" stroke="#4a4a4a" stroke-width="1.2"/>
<line x1="586" y1="413.8" x2="586" y2="420" stroke="#4a4a4a" stroke-width="1.2"/>
<line x1="613.2" y1="413.8" x2="613.2" y2="420" stroke="#4a4a4a" stroke-width="1.2"/>
<line x1="639.4" y1="417.6" x2="639.4" y2="426.8" stroke="#4a4a4a" stroke-width="1.2"/>
<line x1="669.6" y1="417.6" x2="669.6" y2="428.7" stroke="#4a4a4a" stroke-width="1.2"/>
<line x1="701.7" y1="417.6" x2="701.7" y2="429" stroke="#4a4a4a" stroke-width="1.2"/>
<line x1="579.8" y1="389" x2="579.8" y2="396.4" stroke="#4a4a4a" stroke-width="1.2"/>
<polyline points="546.4,402.2 546.4,396.4 613.2,396.4 613.2,402.2" fill="none" stroke="#4a4a4a" stroke-width="1.2"/>
<line x1="586" y1="396.4" x2="586" y2="402.2" stroke="#4a4a4a" stroke-width="1.2"/>
<polyline points="555.2,456 555.2,480.8 608,480.8 608,456" fill="none" stroke="#4a4a4a" stroke-width="1.2"/>
<line x1="581.8" y1="456" x2="581.8" y2="480.8" stroke="#4a4a4a" stroke-width="1.2"/>
<line x1="583.7" y1="480.8" x2="583.7" y2="487" stroke="#4a4a4a" stroke-width="1.2"/>
<line x1="555.2" y1="456" x2="608" y2="456" stroke="#777" stroke-width="0.7"/>
<polyline points="608,456 603.3,445 603.3,438" fill="none" stroke="#777" stroke-width="0.7"/>
<polyline points="528.9,339.4 551.3,327 571.8,360.5 546.6,374.5" fill="none" stroke="#4a4a4a" stroke-width="1.2"/>
<line x1="537.3" y1="354.4" x2="566.6" y2="340.9" stroke="#4a4a4a" stroke-width="1.2"/>
<g style="filter:brightness(1.04)"><path d="M10,429.6 L17,429.3 Q22.6,429.6 22.6,434.7 Q22.6,440 17,440.2 L10,440.2 Q6,440 6,434.8 Q6,429.8 10,429.6 Z" fill="#f4f4f4" stroke="#5a5a5a" stroke-width="0.9" />
<path d="M15.8,429.5 Q18.3,434.8 15.8,440.1" fill="none" stroke="#6a6a6a" stroke-width="0.8" />
<ellipse cx="49.80" cy="434.60" rx="4.40" ry="6.20" fill="#cfcfcf" stroke="#666" stroke-width="1.0" />
<ellipse cx="50.20" cy="434.60" rx="2.40" ry="3.80" fill="#f2f2f2" stroke="#777" stroke-width="0.7" />
<path d="M49.6,432.6 Q51.2,434.6 49.6,436.6" fill="none" stroke="#666" stroke-width="0.7" />
<ellipse cx="85.60" cy="434.20" rx="5.20" ry="6.60" fill="#b4b4b4" stroke="#666" stroke-width="1.0" />
<path d="M84.5,430 Q88,434.2 84.5,438.6" fill="none" stroke="#eee" stroke-width="1" />
<ellipse cx="85.60" cy="427.80" rx="1.60" ry="1.20" fill="#999" stroke="#666" stroke-width="0.5" />
<ellipse cx="112.50" cy="434.60" rx="5.00" ry="6.00" fill="#e6e6e6" stroke="#777" stroke-width="0.9" />
<ellipse cx="113.00" cy="434.60" rx="2.50" ry="3.50" fill="#bbb" stroke="#888" stroke-width="0.5" />
<path d="M128,428.6 L135.5,425.4 A4.3,9.1 0 0 1 135.5,443.6 L128,440.6 Z" fill="#f3f3f3" stroke="#777" stroke-width="0.8" />
<ellipse cx="128.40" cy="434.60" rx="2.90" ry="6.00" fill="#e9e9e9" stroke="#888" stroke-width="0.7" />
<ellipse cx="129.00" cy="434.50" rx="1.40" ry="2.60" fill="#a0a0a0" stroke="#888" stroke-width="0.4" />
<path d="M131,427.5 A5,7.5 0 0 1 131,441.5" fill="none" stroke="#c4c4c4" stroke-width="0.6" />
<ellipse cx="155.80" cy="434.40" rx="11.90" ry="17.20" fill="#fbfbfb" stroke="#555" stroke-width="1.1" />
<path d="M146.5,424 A9.5,17 0 0 0 146.5,445" fill="none" stroke="#444" stroke-width="1.6" />
<rect x="155.32" y="420.90" width="3.4" height="4.4" fill="#f6f6f6" stroke="#999" stroke-width="0.6" transform="rotate(-31.0 157.02 423.10)"/>
<rect x="158.75" y="427.41" width="3.4" height="4.4" fill="#f6f6f6" stroke="#999" stroke-width="0.6" transform="rotate(-11.0 160.45 429.61)"/>
<rect x="158.75" y="436.99" width="3.4" height="4.4" fill="#f6f6f6" stroke="#999" stroke-width="0.6" transform="rotate(11.0 160.45 439.19)"/>
<rect x="155.32" y="443.50" width="3.4" height="4.4" fill="#f6f6f6" stroke="#999" stroke-width="0.6" transform="rotate(31.0 157.02 445.70)"/>
<rect x="150.50" y="444.81" width="3.4" height="4.4" fill="#f6f6f6" stroke="#999" stroke-width="0.6" transform="rotate(50.0 152.20 447.01)"/>
<ellipse cx="151.00" cy="434.40" rx="5.60" ry="11.50" fill="#f4f4f4" stroke="#8a8a8a" stroke-width="0.8" />
<ellipse cx="148.80" cy="434.50" rx="2.80" ry="5.60" fill="#ececec" stroke="#777" stroke-width="0.8" />
<ellipse cx="181.40" cy="434.70" rx="4.00" ry="4.70" fill="#8d8d8d" stroke="#666" stroke-width="0.8" />
<ellipse cx="182.50" cy="434.70" rx="1.60" ry="2.40" fill="#b5b5b5" stroke="none" stroke-width="0.8" />
<ellipse cx="197.80" cy="434.50" rx="5.40" ry="7.50" fill="#777" stroke="#555" stroke-width="0.8" />
<ellipse cx="199.00" cy="434.50" rx="3.40" ry="5.40" fill="#999" stroke="#6a6a6a" stroke-width="0.6" />
<ellipse cx="198.60" cy="434.50" rx="1.60" ry="2.60" fill="#b8b8b8" stroke="none" stroke-width="0.8" />
<path d="M206.80,434.50 a5.60,7.60 0 1 0 11.20,0 a5.60,7.60 0 1 0 -11.20,0 Z M209.20,434.50 a3.80,5.80 0 1 0 7.60,0 a3.80,5.80 0 1 0 -7.60,0 Z" fill="#8a8a8a" fill-rule="evenodd" stroke="#5e5e5e" stroke-width="0.8"/>
<ellipse cx="266.00" cy="434.40" rx="14.80" ry="28.70" fill="#8e8e8e" stroke="#767676" stroke-width="0.8" />
<ellipse cx="264.60" cy="434.40" rx="11.60" ry="23.00" fill="url(#gHub)" stroke="#6a6a6a" stroke-width="0.6" />
<path d="M248,412.5 L256,414.5 L256,454.3 L248,456.3 Z" fill="#8a8a8a" stroke="none"/>
<ellipse cx="237.70" cy="434.40" rx="16.50" ry="28.70" fill="#8e8e8e" stroke="#707070" stroke-width="0.8" />
<circle cx="252.10" cy="434.40" r="0.7" fill="#a8a8a8"/>
<circle cx="250.67" cy="445.68" r="0.7" fill="#a8a8a8"/>
<circle cx="246.68" cy="454.73" r="0.7" fill="#a8a8a8"/>
<circle cx="240.90" cy="459.75" r="0.7" fill="#a8a8a8"/>
<circle cx="234.50" cy="459.75" r="0.7" fill="#a8a8a8"/>
<circle cx="228.72" cy="454.73" r="0.7" fill="#a8a8a8"/>
<circle cx="224.73" cy="445.68" r="0.7" fill="#a8a8a8"/>
<circle cx="223.30" cy="434.40" r="0.7" fill="#a8a8a8"/>
<circle cx="224.73" cy="423.12" r="0.7" fill="#a8a8a8"/>
<circle cx="228.72" cy="414.07" r="0.7" fill="#a8a8a8"/>
<circle cx="234.50" cy="409.05" r="0.7" fill="#a8a8a8"/>
<circle cx="240.90" cy="409.05" r="0.7" fill="#a8a8a8"/>
<circle cx="246.68" cy="414.07" r="0.7" fill="#a8a8a8"/>
<circle cx="250.67" cy="423.12" r="0.7" fill="#a8a8a8"/>
<ellipse cx="237.50" cy="434.40" rx="11.60" ry="18.70" fill="#8b8b8b" stroke="#787878" stroke-width="0.7" />
<ellipse cx="236.50" cy="434.40" rx="8.50" ry="13.50" fill="#888" stroke="#808080" stroke-width="0.5" />
<ellipse cx="235.00" cy="434.40" rx="4.60" ry="9.00" fill="#7c7c7c" stroke="#686868" stroke-width="0.7" />
<line x1="221" y1="434.5" x2="241" y2="434.5" stroke="#c6c6c6" stroke-width="1.2"/>
<ellipse cx="236.00" cy="434.40" rx="1.80" ry="3.20" fill="#a5a5a5" stroke="none" stroke-width="0.8" />
<rect x="295.00" y="432.10" width="85.00" height="5.00" rx="1.2" fill="#979797" stroke="#707070" stroke-width="0.5"/>
<path d="M366.10,434.60 L366.06,436.71 L365.49,438.55 L365.29,440.47 L365.44,442.82 L365.08,444.70 L364.28,445.76 L363.81,447.31 L363.59,449.61 L362.97,450.94 L362.07,451.04 L361.41,451.95 L360.85,453.81 L360.08,454.36 L359.25,453.48 L358.50,453.59 L357.71,454.69 L356.92,454.36 L356.29,452.66 L355.59,451.95 L354.70,452.09 L354.03,450.94 L353.72,448.71 L353.19,447.31 L352.35,446.47 L351.92,444.70 L351.97,442.32 L351.71,440.47 L351.07,438.80 L350.94,436.71 L351.36,434.60 L351.40,432.62 L351.07,430.40 L351.27,428.36 L351.97,426.88 L352.31,425.11 L352.35,422.73 L352.85,421.08 L353.72,420.49 L354.30,419.24 L354.70,417.11 L355.41,416.15 L356.29,416.54 L357.01,416.03 L357.71,414.51 L358.50,414.40 L359.25,415.72 L359.99,416.03 L360.85,415.39 L361.59,416.15 L362.07,418.16 L362.70,419.24 L363.59,419.59 L364.15,421.08 L364.28,423.44 L364.69,425.11 L365.44,426.38 L365.73,428.36 L365.49,430.65 L365.60,432.62 Z" fill="#7a7a7a" stroke="#5c5c5c" stroke-width="0.6"/>
<path d="M319.00,424.10 L326.00,424.10 A3.00,10.50 0 0 1 326.00,445.10 L319.00,445.10 Z" fill="#7e7e7e" stroke="#666" stroke-width="0.8"/>
<ellipse cx="319.00" cy="434.60" rx="3.00" ry="10.50" fill="#858585" stroke="#666" stroke-width="0.8" />
<path d="M325.00,420.60 L334.00,420.60 A4.00,14.00 0 0 1 334.00,448.60 L325.00,448.60 Z" fill="#828282" stroke="#6a6a6a" stroke-width="0.8"/>
<ellipse cx="325.00" cy="434.60" rx="4.00" ry="14.00" fill="#888" stroke="#6a6a6a" stroke-width="0.8" />
<path d="M333.00,417.60 L344.00,417.60 A5.00,17.00 0 0 1 344.00,451.60 L333.00,451.60 Z" fill="#848484" stroke="#6a6a6a" stroke-width="0.8"/>
<ellipse cx="333.00" cy="434.60" rx="5.00" ry="17.00" fill="#8a8a8a" stroke="#6a6a6a" stroke-width="0.8" />
<path d="M343.00,415.60 L357.00,415.60 A6.00,19.00 0 0 1 357.00,453.60 L343.00,453.60 Z" fill="#838383" stroke="#6a6a6a" stroke-width="0.8"/>
<ellipse cx="343.00" cy="434.60" rx="6.00" ry="19.00" fill="#898989" stroke="#6a6a6a" stroke-width="0.8" />
<rect x="337" y="426" width="2" height="4" fill="#5e5e5e"/>
<rect x="337" y="439" width="2" height="4" fill="#5e5e5e"/>
<rect x="349" y="424" width="2" height="4" fill="#5e5e5e"/>
<rect x="349" y="441" width="2" height="4" fill="#5e5e5e"/>
<ellipse cx="322.00" cy="434.60" rx="1.60" ry="3.50" fill="#9a9a9a" stroke="none" stroke-width="0.8" />
<path d="M366,429.5 L371.5,430.5 L371.5,438.7 L366,439.7 Z" fill="#7a7a7a" stroke="#666" stroke-width="0.5" />
<path d="M385.20,433.70 a16.00,22.30 0 1 0 32.00,0 a16.00,22.30 0 1 0 -32.00,0 Z M397.00,433.70 a8.00,13.60 0 1 0 16.00,0 a8.00,13.60 0 1 0 -16.00,0 Z" fill="#8d8d8d" fill-rule="evenodd" stroke="#5e5e5e" stroke-width="0.8"/>
<path d="M403.5,415.7 A12.4,18 0 0 0 403.5,451.7" fill="none" stroke="#a6a6a6" stroke-width="1.1" />
<path d="M422.00,434.00 a9.50,16.00 0 1 0 19.00,0 a9.50,16.00 0 1 0 -19.00,0 Z M426.20,433.60 a6.00,10.60 0 1 0 12.00,0 a6.00,10.60 0 1 0 -12.00,0 Z" fill="#606060" fill-rule="evenodd" stroke="#444" stroke-width="0.8"/>
<path d="M486.20,435.20 L486.15,437.18 L484.00,438.59 L483.81,440.26 L485.49,442.99 L485.09,444.84 L482.79,445.04 L482.31,446.52 L483.41,450.01 L482.70,451.57 L480.48,450.52 L479.75,451.68 L480.18,455.59 L479.23,456.69 L477.30,454.51 L476.40,455.22 L476.11,459.17 L475.01,459.70 L473.56,456.61 L472.59,456.81 L471.60,460.40 L470.45,460.32 L469.64,456.61 L468.67,456.27 L467.09,459.17 L466.01,458.48 L465.90,454.51 L465.04,453.68 L463.02,455.59 L462.12,454.36 L462.72,450.52 L462.05,449.27 L459.79,450.01 L459.15,448.37 L460.41,445.04 L460.00,443.49 L457.71,442.99 L457.40,441.08 L459.20,438.59 L459.08,436.90 L457.00,435.20 L457.05,433.22 L459.20,431.81 L459.39,430.14 L457.71,427.41 L458.11,425.56 L460.41,425.36 L460.89,423.88 L459.79,420.39 L460.50,418.83 L462.72,419.88 L463.45,418.72 L463.02,414.81 L463.97,413.71 L465.90,415.89 L466.80,415.18 L467.09,411.23 L468.19,410.70 L469.64,413.79 L470.61,413.59 L471.60,410.00 L472.75,410.08 L473.56,413.79 L474.53,414.13 L476.11,411.23 L477.19,411.92 L477.30,415.89 L478.16,416.72 L480.18,414.81 L481.08,416.04 L480.48,419.88 L481.15,421.13 L483.41,420.39 L484.05,422.03 L482.79,425.36 L483.20,426.91 L485.49,427.41 L485.80,429.32 L484.00,431.81 L484.12,433.50 Z" fill="#e2e2e2" stroke="#555" stroke-width="1.2"/>
<ellipse cx="471.20" cy="435.20" rx="10.40" ry="18.20" fill="#cfcfcf" stroke="#777" stroke-width="0.8" />
<path d="M463.5,425 A8.5,15 0 0 0 463.5,445.5" fill="none" stroke="#9a9a9a" stroke-width="2" />
<ellipse cx="477.81" cy="441.43" rx="1.5" ry="3.2" fill="#e6e6e6" stroke="#555" stroke-width="0.8" transform="rotate(118.6 477.81 441.43)"/>
<ellipse cx="471.57" cy="448.20" rx="1.5" ry="3.2" fill="#e6e6e6" stroke="#555" stroke-width="0.8" transform="rotate(178.6 471.57 448.20)"/>
<ellipse cx="465.17" cy="441.96" rx="1.5" ry="3.2" fill="#e6e6e6" stroke="#555" stroke-width="0.8" transform="rotate(238.6 465.17 441.96)"/>
<ellipse cx="464.99" cy="428.97" rx="1.5" ry="3.2" fill="#e6e6e6" stroke="#555" stroke-width="0.8" transform="rotate(298.6 464.99 428.97)"/>
<ellipse cx="471.23" cy="422.20" rx="1.5" ry="3.2" fill="#e6e6e6" stroke="#555" stroke-width="0.8" transform="rotate(358.6 471.23 422.20)"/>
<ellipse cx="477.63" cy="428.44" rx="1.5" ry="3.2" fill="#e6e6e6" stroke="#555" stroke-width="0.8" transform="rotate(418.6 477.63 428.44)"/>
<ellipse cx="472.60" cy="435.20" rx="4.80" ry="9.60" fill="#fff" stroke="#777" stroke-width="0.8" />
<ellipse cx="496.40" cy="434.60" rx="5.20" ry="8.70" fill="none" stroke="#707070" stroke-width="1.8" />
<path d="M538.80,434.70 a7.50,12.80 0 1 0 15.00,0 a7.50,12.80 0 1 0 -15.00,0 Z M542.20,434.70 a5.20,10.60 0 1 0 10.40,0 a5.20,10.60 0 1 0 -10.40,0 Z" fill="#8a8a8a" fill-rule="evenodd" stroke="#555" stroke-width="0.8"/>
<path d="M557.6,409.6 L561.4,407.2 L565.5,413 L577.5,424.5 L574,429.5 L562.5,418.5 Z" fill="#ececec" stroke="#6c6c6c" stroke-width="0.9" />
<ellipse cx="587.20" cy="435.00" rx="11.60" ry="15.00" fill="#b0b0b0" stroke="#555" stroke-width="0.8" />
<ellipse cx="587.50" cy="435.00" rx="4.50" ry="8.00" fill="#f4f4f4" stroke="#777" stroke-width="0.8" />
<ellipse cx="590.00" cy="435.00" rx="7.60" ry="12.00" fill="none" stroke="#777" stroke-width="0.8" />
<circle cx="591.48" cy="420.43" r="1.1" fill="#8a8a8a"/>
<circle cx="596.49" cy="424.63" r="1.1" fill="#8a8a8a"/>
<circle cx="599.33" cy="431.25" r="1.1" fill="#8a8a8a"/>
<circle cx="599.33" cy="438.75" r="1.1" fill="#8a8a8a"/>
<circle cx="596.49" cy="445.37" r="1.1" fill="#8a8a8a"/>
<circle cx="591.48" cy="449.57" r="1.1" fill="#8a8a8a"/>
<path d="M610,421 L614.5,420 L616,425 Q619.5,428 619.5,434 Q619.5,445 612.5,446 Q606,446 606,434 Q606,425 610,421 Z" fill="#c6c6c6" stroke="#666" stroke-width="0.9" />
<ellipse cx="612.50" cy="434.50" rx="3.40" ry="5.50" fill="#fff" stroke="#777" stroke-width="0.8" />
<path d="M553,453.5 L557,453.2 L559.5,455.7 L557,458.2 L553,458 Q552.3,455.7 553,453.5 Z" fill="#eee" stroke="#666" stroke-width="0.8" />
<ellipse cx="581.60" cy="455.70" rx="2.30" ry="2.90" fill="#6a6a6a" stroke="#555" stroke-width="0.8" />
<ellipse cx="608.20" cy="455.70" rx="3.00" ry="3.40" fill="#f6f6f6" stroke="#777" stroke-width="0.8" />
<g transform="rotate(-32 523.6 342.3)">
<ellipse cx="523.60" cy="342.30" rx="4.30" ry="6.30" fill="#5c5c5c" stroke="#777" stroke-width="0.8" />
<path d="M519.6,339.3 Q523.6,336.6 527.6,339.3" fill="none" stroke="#bbb" stroke-width="1.0" />
<path d="M519.6,345.3 Q523.6,348 527.6,345.3" fill="none" stroke="#bbb" stroke-width="1.0" />
</g>
<g transform="rotate(-32 531.3 356.2)">
<rect x="528.60" y="349.80" width="5.40" height="4.20" rx="1.6" fill="#a8a8a8" stroke="#555" stroke-width="0.7"/>
<path d="M527.8,355 L534.8,355 L533.2,361.2 L529.4,361.2 Z" fill="#8a8a8a" stroke="#555" stroke-width="0.7" />
</g>
<path d="M537.5,364.5 L549.8,389" fill="none" stroke="#555" stroke-width="4.0" stroke-linecap="round"/>
<path d="M537.5,364.5 L549.8,389" fill="none" stroke="#f4f4f4" stroke-width="2.4" stroke-linecap="round"/>
<path d="M537.5,364.5 L549.8,389" fill="none" stroke="#777" stroke-width="2.4" stroke-dasharray="0.7,1.1"/>
<path d="M550.5,390.5 L558,408.5" fill="none" stroke="#8a8a8a" stroke-width="0.7" />
<ellipse cx="640.00" cy="434.60" rx="5.20" ry="6.60" fill="#9c9c9c" stroke="#5c5c5c" stroke-width="0.8" />
<ellipse cx="641.00" cy="434.60" rx="2.40" ry="3.80" fill="#c4c4c4" stroke="#888" stroke-width="0.6" />
<path d="M636,428.5 L638.8,426.3 L641.2,428" fill="none" stroke="#666" stroke-width="0.9" />
<ellipse cx="670.00" cy="434.60" rx="4.40" ry="5.90" fill="#8a8a8a" stroke="#4e4e4e" stroke-width="0.8" />
<ellipse cx="670.60" cy="434.60" rx="2.20" ry="3.40" fill="#c8c8c8" stroke="#666" stroke-width="0.5" />
<path d="M703,429.2 Q711.4,429 711.4,434.7 Q711.4,440.4 703,440.2" fill="#f8f8f8" stroke="#666" stroke-width="0.9" />
<ellipse cx="699.80" cy="434.70" rx="4.20" ry="5.60" fill="#bdbdbd" stroke="#555" stroke-width="1.0" />
<ellipse cx="699.50" cy="434.70" rx="2.20" ry="3.40" fill="#e6e6e6" stroke="#666" stroke-width="0.6" /></g>
<circle cx="14.1" cy="411.7" r="5.9" fill="#fff" stroke="#727272" stroke-width="1.25"/>
<text x="0" y="0" transform="translate(14.1,415.09999999999997) scale(0.62,1)" text-anchor="middle" font-size="9.4" font-weight="bold" fill="#262626" stroke="#262626" stroke-width="0.2">27</text>
<circle cx="49.9" cy="411.7" r="5.9" fill="#fff" stroke="#727272" stroke-width="1.25"/>
<text x="0" y="0" transform="translate(49.9,415.09999999999997) scale(0.62,1)" text-anchor="middle" font-size="9.4" font-weight="bold" fill="#262626" stroke="#262626" stroke-width="0.2">28</text>
<circle cx="84.4" cy="411.7" r="5.9" fill="#fff" stroke="#727272" stroke-width="1.25"/>
<text x="0" y="0" transform="translate(84.4,415.09999999999997) scale(0.62,1)" text-anchor="middle" font-size="9.4" font-weight="bold" fill="#262626" stroke="#262626" stroke-width="0.2">30</text>
<circle cx="182.2" cy="410.8" r="5.9" fill="#fff" stroke="#727272" stroke-width="1.25"/>
<text x="0" y="0" transform="translate(182.2,414.2) scale(0.62,1)" text-anchor="middle" font-size="9.4" font-weight="bold" fill="#262626" stroke="#262626" stroke-width="0.2">31</text>
<circle cx="197.9" cy="410.8" r="5.9" fill="#fff" stroke="#727272" stroke-width="1.25"/>
<text x="0" y="0" transform="translate(197.9,414.2) scale(0.62,1)" text-anchor="middle" font-size="9.4" font-weight="bold" fill="#262626" stroke="#262626" stroke-width="0.2">32</text>
<circle cx="212.9" cy="410.8" r="5.9" fill="#fff" stroke="#727272" stroke-width="1.25"/>
<text x="0" y="0" transform="translate(212.9,414.2) scale(0.62,1)" text-anchor="middle" font-size="9.4" font-weight="bold" fill="#262626" stroke="#262626" stroke-width="0.2">33</text>
<circle cx="403.7" cy="398.3" r="5.9" fill="#fff" stroke="#727272" stroke-width="1.25"/>
<text x="0" y="0" transform="translate(403.7,401.7) scale(0.62,1)" text-anchor="middle" font-size="9.4" font-weight="bold" fill="#262626" stroke="#262626" stroke-width="0.2">12</text>
<circle cx="431.6" cy="398.3" r="5.9" fill="#fff" stroke="#727272" stroke-width="1.25"/>
<text x="0" y="0" transform="translate(431.6,401.7) scale(0.62,1)" text-anchor="middle" font-size="9.4" font-weight="bold" fill="#262626" stroke="#262626" stroke-width="0.2">13</text>
<circle cx="470.8" cy="395.4" r="5.9" fill="#fff" stroke="#727272" stroke-width="1.25"/>
<text x="0" y="0" transform="translate(470.8,398.79999999999995) scale(0.62,1)" text-anchor="middle" font-size="9.4" font-weight="bold" fill="#262626" stroke="#262626" stroke-width="0.2">34</text>
<circle cx="496.4" cy="410" r="5.9" fill="#fff" stroke="#727272" stroke-width="1.25"/>
<text x="0" y="0" transform="translate(496.4,413.4) scale(0.62,1)" text-anchor="middle" font-size="9.4" font-weight="bold" fill="#262626" stroke="#262626" stroke-width="0.2">35</text>
<circle cx="546.4" cy="408" r="5.9" fill="#fff" stroke="#727272" stroke-width="1.25"/>
<text x="0" y="0" transform="translate(546.4,411.4) scale(0.62,1)" text-anchor="middle" font-size="9.4" font-weight="bold" fill="#262626" stroke="#262626" stroke-width="0.2">37</text>
<circle cx="586" cy="408" r="5.9" fill="#fff" stroke="#727272" stroke-width="1.25"/>
<text x="0" y="0" transform="translate(586,411.4) scale(0.62,1)" text-anchor="middle" font-size="9.4" font-weight="bold" fill="#262626" stroke="#262626" stroke-width="0.2">38</text>
<circle cx="613.2" cy="408" r="5.9" fill="#fff" stroke="#727272" stroke-width="1.25"/>
<text x="0" y="0" transform="translate(613.2,411.4) scale(0.62,1)" text-anchor="middle" font-size="9.4" font-weight="bold" fill="#262626" stroke="#262626" stroke-width="0.2">39</text>
<circle cx="639.4" cy="411.8" r="5.9" fill="#fff" stroke="#727272" stroke-width="1.25"/>
<text x="0" y="0" transform="translate(639.4,415.2) scale(0.62,1)" text-anchor="middle" font-size="9.4" font-weight="bold" fill="#262626" stroke="#262626" stroke-width="0.2">29</text>
<circle cx="669.6" cy="411.8" r="5.9" fill="#fff" stroke="#727272" stroke-width="1.25"/>
<text x="0" y="0" transform="translate(669.6,415.2) scale(0.62,1)" text-anchor="middle" font-size="9.4" font-weight="bold" fill="#262626" stroke="#262626" stroke-width="0.2">28</text>
<circle cx="701.7" cy="411.8" r="5.9" fill="#fff" stroke="#727272" stroke-width="1.25"/>
<text x="0" y="0" transform="translate(701.7,415.2) scale(0.62,1)" text-anchor="middle" font-size="9.4" font-weight="bold" fill="#262626" stroke="#262626" stroke-width="0.2">27</text>
<circle cx="579.8" cy="383.2" r="5.9" fill="#fff" stroke="#727272" stroke-width="1.25"/>
<text x="0" y="0" transform="translate(579.8,386.59999999999997) scale(0.62,1)" text-anchor="middle" font-size="9.4" font-weight="bold" fill="#262626" stroke="#262626" stroke-width="0.2">36</text>
<circle cx="583.7" cy="492.8" r="5.9" fill="#fff" stroke="#727272" stroke-width="1.25"/>
<text x="0" y="0" transform="translate(583.7,496.2) scale(0.62,1)" text-anchor="middle" font-size="9.4" font-weight="bold" fill="#262626" stroke="#262626" stroke-width="0.2">40</text>
<circle cx="572.3" cy="337.2" r="5.9" fill="#fff" stroke="#727272" stroke-width="1.25"/>
<text x="0" y="0" transform="translate(572.3,340.59999999999997) scale(0.62,1)" text-anchor="middle" font-size="9.4" font-weight="bold" fill="#262626" stroke="#262626" stroke-width="0.2">41</text>
</svg>
</body></html>
